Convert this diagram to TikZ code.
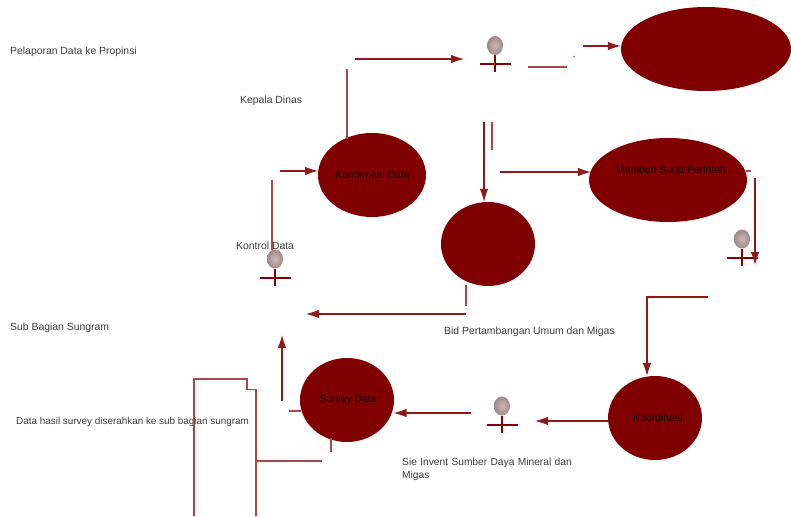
\documentclass[tikz,border=0pt]{standalone}
\usepackage{fontspec}
\setmainfont{Liberation Sans}
\usetikzlibrary{arrows.meta,shapes.geometric,shadings}
\definecolor{mar}{HTML}{800000}
\definecolor{lite}{HTML}{A84848}
\definecolor{txt}{HTML}{3A3A3A}
\definecolor{headin}{HTML}{CDB8B8}
\definecolor{headout}{HTML}{A08888}
\tikzset{
  x=1pt,y=-1pt,
  usecase/.style={ellipse,draw=none,fill=mar,inner sep=0pt},
  uctext/.style={inner sep=0pt,text=black!80!mar,font=\fontsize{10.4}{12}\selectfont},
  lbl/.style={anchor=west,inner sep=0pt,text=txt,font=\fontsize{10.4}{13}\selectfont},
  flow/.style={draw=mar!90!white,line width=1.1pt,-{Latex[length=13pt,width=8.5pt]}},
  plain/.style={draw=lite,line width=1.1pt},
  thead/.style={ellipse,inner sep=0pt,minimum width=16pt,minimum height=19pt,shading=radial,inner color=headin,outer color=headout,draw=none},
  tbar/.style={draw=mar,line width=2pt}
}
\newcommand{\actor}[3]{%
  \node[thead] (#1) at (#2,#3) {};
  \coordinate (#1l) at (#2-15.5,#3+18.5);
  \coordinate (#1r) at (#2+15.5,#3+18.5);
  \coordinate (#1t) at (#2,#3+10);
  \coordinate (#1b) at (#2,#3+27);
  \draw[tbar] (#1l) -- (#1r);
  \draw[tbar,line width=1.6pt] (#1t) -- (#1b);
}
\begin{document}
\begin{tikzpicture}
\useasboundingbox (0,0) rectangle (791,516);
% use cases
\node[usecase,minimum width=170pt,minimum height=84pt] (uA) at (706,49) {};
\node[usecase,minimum width=108pt,minimum height=84pt] (uK) at (372,175) {};
\node[uctext] (uKt) at (372.5,175) {Konfirmasi Data};
\node[usecase,minimum width=158pt,minimum height=84pt] (uM) at (668,180) {};
\node[uctext] (uMt) at (671,170) {Memberi Surat Perintah};
\node[usecase,minimum width=94pt,minimum height=84pt] (uB) at (488,244) {};
\node[usecase,minimum width=94pt,minimum height=84pt] (uS) at (347,400) {};
\node[uctext] (uSt) at (348,400) {Survey Data};
\node[usecase,minimum width=94pt,minimum height=84pt] (uO) at (655,418) {};
\node[uctext] (uOt) at (658,418) {Koordinasi};
% actors
\actor{aA}{495}{45.5}
\actor{aK}{275}{259}
\actor{aP}{742}{239}
\actor{aD}{502}{406}
% labels
\node[lbl] (t1) at (10,51.5) {Pelaporan Data ke Propinsi};
\node[lbl] (t2) at (240,100.5) {Kepala Dinas};
\node[lbl] (t3) at (236,245.5) {Kontrol Data};
\node[lbl] (t4) at (10,328) {Sub Bagian Sungram};
\node[lbl] (t5) at (444,332) {Bid Pertambangan Umum dan Migas};
\node[lbl,font=\fontsize{9.9}{13}\selectfont] (t6) at (16,421.5) {Data hasil survey diserahkan ke sub bagian sungram};
\node[lbl,align=left,text width=190pt,anchor=north west,font=\fontsize{10.2}{13}\selectfont] (t7) at (402,458) {Sie Invent Sumber Daya Mineral dan\\Migas};
% free ends
\coordinate (c1a) at (355,59);  \coordinate (c1b) at (464,59);
\coordinate (c2a) at (528,67);  \coordinate (c2b) at (567,67);
\coordinate (c3a) at (583,46);
\coordinate (c4a) at (347,69);  \coordinate (c4b) at (347,139);
\coordinate (c5a) at (492,122); \coordinate (c5b) at (492,150);
\coordinate (c6a) at (484,122);
\coordinate (c7a) at (500,172); \coordinate (c7b) at (591,172);
\coordinate (c8a) at (280,171); \coordinate (c8b) at (318,171);
\coordinate (c9a) at (272,180); \coordinate (c9b) at (272,250);
\coordinate (c10a) at (746,171);\coordinate (c10b) at (751,171);
\coordinate (c11a) at (755,178);\coordinate (c11b) at (755,265);
\coordinate (c12a) at (708,297);\coordinate (c12b) at (647,297);\coordinate (c12c) at (647,376);
\coordinate (c13a) at (466,285);\coordinate (c13b) at (466,306);
\coordinate (c14a) at (466,314);\coordinate (c14b) at (306,314);
\coordinate (c15a) at (282,401);\coordinate (c15b) at (282,335);
\coordinate (c16a) at (289,411);\coordinate (c16b) at (301,411);
\coordinate (c17a) at (471,413);\coordinate (c17b) at (393.5,413);
\coordinate (c18a) at (609,421);\coordinate (c18b) at (535,421);
\coordinate (c19a) at (331,438);\coordinate (c19b) at (331,452);
\coordinate (c20a) at (256,461);\coordinate (c20b) at (322,461);
\coordinate (c21) at (574,56.5);
% connectors
\draw[flow] (c1a) -- (c1b);
\draw[plain] (c2a) -- (c2b);
\fill[lite] (c21) circle (0.8pt);
\draw[flow] (c3a) -- (uA.west |- c3a);
\draw[plain] (c4a) -- (c4b);
\draw[plain] (c5a) -- (c5b);
\draw[flow] (c6a) -- (c6a |- uB.north);
\draw[flow] (c7a) -- (c7b);
\draw[flow] (c8a) -- (c8b);
\draw[plain] (c9a) -- (c9b);
\draw[plain] (c10a) -- (c10b);
\draw[flow] (c11a) -- (c11b);
\draw[flow] (c12a) -- (c12b) -- (c12c);
\draw[plain] (c13a) -- (c13b);
\draw[flow] (c14a) -- (c14b);
\draw[flow] (c15a) -- (c15b);
\draw[plain] (c16a) -- (c16b);
\draw[flow] (c17a) -- (c17b);
\draw[flow] (c18a) -- (c18b);
\draw[plain] (c19a) -- (c19b);
\draw[plain] (c20a) -- (c20b);
% note
\draw[plain] (194,516) -- (194,379) -- (247,379) -- (247,389.5) -- (256,389.5) -- (256,516);
\end{tikzpicture}
\end{document}
